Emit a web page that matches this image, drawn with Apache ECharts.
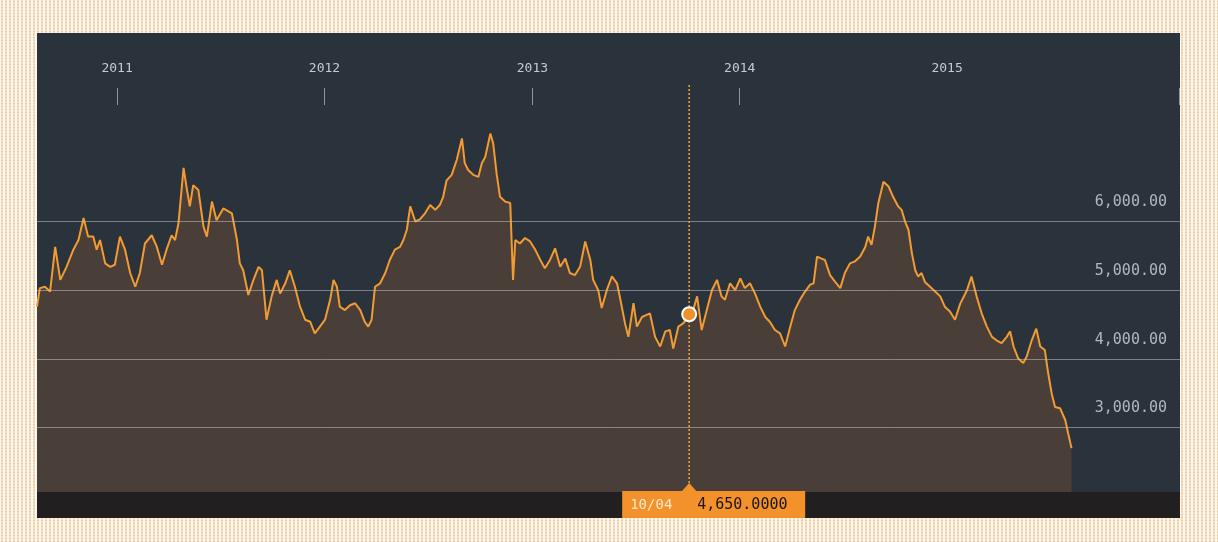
<!DOCTYPE html>
<html><head><meta charset="utf-8">
<script src="https://cdn.jsdelivr.net/npm/echarts@6/dist/echarts.min.js"></script>
<style>
html,body{margin:0;padding:0;}
body{width:1218px;height:542px;background-color:#fdf8ef;background-image:radial-gradient(circle, rgba(228,165,90,0.55) 0.9px, rgba(0,0,0,0) 1.4px);background-size:4px 3px;}
#chart{width:1218px;height:542px;}
</style></head><body><div id="chart"></div>
<script>
const dates = [
'2010-08-13','2010-08-18','2010-08-27','2010-09-05','2010-09-14','2010-09-23','2010-10-04','2010-10-16','2010-10-25','2010-11-03',
'2010-11-11','2010-11-20','2010-11-26','2010-12-02','2010-12-11','2010-12-20','2010-12-28','2011-01-06','2011-01-15','2011-01-24',
'2011-02-02','2011-02-10','2011-02-19','2011-03-03','2011-03-12','2011-03-21','2011-03-29','2011-04-07','2011-04-13','2011-04-19',
'2011-04-28','2011-05-04','2011-05-09','2011-05-15','2011-05-24','2011-06-02','2011-06-08','2011-06-17','2011-06-25','2011-07-07',
'2011-07-22','2011-07-31','2011-08-05','2011-08-11','2011-08-20','2011-08-29','2011-09-07','2011-09-13','2011-09-21','2011-09-30',
'2011-10-09','2011-10-15','2011-10-24','2011-11-01','2011-11-10','2011-11-19','2011-11-28','2011-12-07','2011-12-15','2011-12-24',
'2012-01-02','2012-01-11','2012-01-17','2012-01-23','2012-01-28','2012-02-06','2012-02-15','2012-02-24','2012-03-04','2012-03-12',
'2012-03-18','2012-03-24','2012-03-30','2012-04-08','2012-04-17','2012-04-25','2012-05-04','2012-05-13','2012-05-19','2012-05-25',
'2012-05-31','2012-06-09','2012-06-17','2012-06-26','2012-07-05','2012-07-14','2012-07-22','2012-07-28','2012-08-03','2012-08-12',
'2012-08-21','2012-08-30','2012-09-04','2012-09-10','2012-09-19','2012-09-28','2012-10-04','2012-10-10','2012-10-19','2012-10-24',
'2012-10-30','2012-11-05','2012-11-14','2012-11-23','2012-11-28','2012-12-02','2012-12-10','2012-12-19','2012-12-28','2013-01-06',
'2013-01-15','2013-01-23','2013-02-01','2013-02-10','2013-02-19','2013-02-28','2013-03-08','2013-03-17','2013-03-26','2013-04-04',
'2013-04-13','2013-04-18','2013-04-27','2013-05-03','2013-05-12','2013-05-21','2013-05-30','2013-06-04','2013-06-13','2013-06-19',
'2013-06-28','2013-07-04','2013-07-13','2013-07-21','2013-07-27','2013-08-05','2013-08-14','2013-08-23','2013-08-31','2013-09-06',
'2013-09-15','2013-09-24','2013-10-04','2013-10-11','2013-10-18','2013-10-26','2013-11-04','2013-11-13','2013-11-22','2013-11-30',
'2013-12-06','2013-12-15','2013-12-24','2014-01-02','2014-01-10','2014-01-19','2014-01-28','2014-02-06','2014-02-15','2014-02-23',
'2014-03-04','2014-03-13','2014-03-22','2014-03-31','2014-04-08','2014-04-17','2014-04-26','2014-05-05','2014-05-11','2014-05-17',
'2014-05-25','2014-05-31','2014-06-09','2014-06-18','2014-06-27','2014-07-05','2014-07-14','2014-07-23','2014-08-01','2014-08-10',
'2014-08-15','2014-08-21','2014-08-27','2014-09-02','2014-09-11','2014-09-20','2014-09-28','2014-10-07','2014-10-13','2014-10-19',
'2014-10-25','2014-10-31','2014-11-06','2014-11-11','2014-11-17','2014-11-23','2014-12-02','2014-12-11','2014-12-20','2014-12-28',
'2015-01-06','2015-01-15','2015-01-24','2015-02-05','2015-02-13','2015-02-22','2015-03-03','2015-03-12','2015-03-21','2015-03-29',
'2015-04-07','2015-04-16','2015-04-22','2015-04-28','2015-05-06','2015-05-15','2015-05-21','2015-05-30','2015-06-07','2015-06-14',
'2015-06-22','2015-06-28','2015-07-04','2015-07-10','2015-07-19','2015-07-28','2015-08-02','2015-08-08'
];
const values = [
4760,5030,5050,4980,5630,5150,5340,5590,5730,6050,
5780,5780,5590,5730,5390,5340,5370,5780,5590,5250,
5050,5250,5680,5800,5630,5370,5590,5800,5730,5970,
6780,6460,6220,6530,6460,5930,5780,6290,6020,6190,
6120,5730,5390,5290,4930,5150,5340,5290,4570,4910,
5150,4950,5100,5290,5050,4760,4570,4540,4370,4470,
4570,4860,5150,5050,4760,4710,4780,4810,4710,4540,
4470,4570,5050,5100,5250,5440,5590,5630,5730,5880,
6220,6000,6030,6120,6240,6170,6240,6360,6600,6680,
6900,7210,6850,6750,6680,6650,6850,6940,7280,7140,
6700,6360,6290,6270,5150,5730,5680,5760,5710,5590,
5440,5320,5440,5610,5340,5460,5250,5220,5340,5710,
5440,5150,5000,4740,5000,5200,5100,4900,4520,4320,
4810,4470,4610,4640,4660,4320,4180,4400,4420,4150,
4470,4520,4650,4710,4910,4420,4710,5000,5150,4910,
4860,5100,5000,5170,5030,5100,4950,4760,4610,4540,
4420,4370,4180,4470,4710,4860,4980,5080,5100,5490,
5460,5440,5220,5120,5030,5250,5390,5420,5490,5630,
5780,5660,5930,6270,6580,6510,6360,6220,6170,6000,
5880,5540,5290,5200,5250,5120,5050,4980,4910,4760,
4690,4570,4800,5000,5200,4910,4660,4470,4320,4270,
4230,4320,4400,4180,4010,3940,4030,4270,4440,4180,
4130,3790,3500,3300,3280,3110,2920,2700
];
const yTickValues = [3000, 4000, 5000, 6000];
const yearLabels = [2011, 2012, 2013, 2014, 2015];
const xAxisMin = '2010-08-13';
const xAxisMax = '2016-02-15';
const hoverDate = '2013-10-04';
const hoverValue = 4650;

const MONO = '"DejaVu Sans Mono", "Liberation Mono", monospace';
function fmtNum(v, d) {
  return v.toLocaleString('en-US', {minimumFractionDigits: d, maximumFractionDigits: d});
}
function parseLocal(s) {
  const p = s.split('-').map(Number);
  return new Date(p[0], p[1] - 1, p[2]).getTime();
}
const yearStamps = yearLabels.map(y => new Date(y, 0, 1).getTime());
const chart = echarts.init(document.getElementById('chart'), null, {renderer: 'canvas'});
const baseGraphic = [
  {id: 'panel', type: 'rect', silent: true, z: -10, shape: {x: 37, y: 33, width: 1143, height: 485}, style: {fill: '#2a323c'}}
];
chart.setOption({
  animation: false,
  backgroundColor: 'transparent',
  graphic: baseGraphic,
  grid: {left: 37, right: 38, top: 15.5, bottom: 45.8},
  xAxis: {
    type: 'time', position: 'top', min: xAxisMin, max: xAxisMax, offset: -72.5,
    axisLine: {show: false},
    axisTick: {show: true, inside: true, length: 17, lineStyle: {color: '#8f969e', width: 1},
      customValues: yearStamps.concat([parseLocal(xAxisMax) - 12 * 3600 * 1000])},
    axisLabel: {customValues: yearStamps, formatter: '{yyyy}', color: '#c6cace', fontFamily: MONO, fontSize: 13, margin: 13},
    splitLine: {show: false}
  },
  yAxis: {
    type: 'value', position: 'right', min: 2000, max: 9000, interval: 1000,
    axisLine: {show: false}, axisTick: {show: false}, splitLine: {show: false},
    axisLabel: {
      inside: true, margin: 13, color: '#b3b7bc', fontFamily: MONO, fontSize: 15,
      verticalAlign: 'bottom', lineHeight: 38,
      formatter: v => yTickValues.indexOf(v) >= 0 ? fmtNum(v, 2) : ''
    }
  },
  series: [{
    type: 'line',
    data: dates.map((d, i) => [d, values[i]]),
    symbol: 'none', showSymbol: false,
    lineStyle: {color: '#f39b33', width: 2},
    areaStyle: {color: '#4a3f38', opacity: 1},
    markLine: {
      silent: true, animation: false, symbol: ['none', 'none'], label: {show: false},
      lineStyle: {color: 'rgba(190,192,195,0.55)', width: 1, type: 'solid'},
      data: yTickValues.map(v => ({yAxis: v}))
    }
  }]
});

const hp = chart.convertToPixel({seriesIndex: 0}, [hoverDate, hoverValue]);
const hx = hp[0], hy = hp[1];
const md = hoverDate.split('-');
chart.setOption({
  graphic: baseGraphic.concat([
    {id: 'band', type: 'rect', silent: true, z: 50, shape: {x: 37, y: 492, width: 1143, height: 26}, style: {fill: '#211f20'}},
    {id: 'vline', type: 'line', silent: true, z: 40, shape: {x1: hx, y1: 85, x2: hx, y2: 484}, style: {stroke: '#e9a43d', lineWidth: 1.5, lineDash: [2, 2]}},
    {id: 'dot', type: 'circle', silent: true, z: 45, shape: {cx: hx, cy: hy, r: 7}, style: {fill: '#f0922b', stroke: '#ffffff', lineWidth: 2}},
    {id: 'tri', type: 'polygon', silent: true, z: 55, shape: {points: [[hx - 8, 492], [hx, 483], [hx + 8, 492]]}, style: {fill: '#f3922a'}},
    {id: 'box', type: 'rect', silent: true, z: 55, shape: {x: hx - 67, y: 491, width: 183, height: 27}, style: {fill: '#f3922a'}},
    {id: 'tdate', type: 'text', silent: true, z: 60, x: hx - 59, y: 505, style: {text: md[1] + '/' + md[2], fill: '#fde9cc', font: '14px ' + MONO, verticalAlign: 'middle', align: 'left'}},
    {id: 'tval', type: 'text', silent: true, z: 60, x: hx + 8, y: 505, style: {text: fmtNum(hoverValue, 4), fill: '#1a1614', font: '15px ' + MONO, verticalAlign: 'middle', align: 'left'}}
  ])
});
</script>
</body></html>
